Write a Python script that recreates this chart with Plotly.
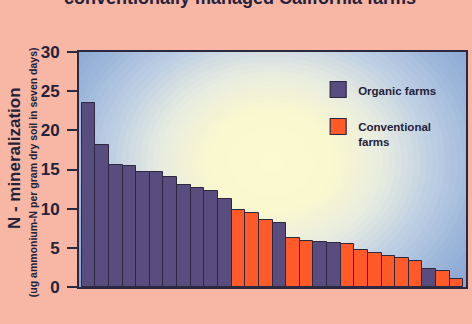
import plotly.graph_objects as go

# Farms ranked by N-mineralization (ug ammonium-N per g dry soil in 7 days)
farm_rank = list(range(28))
farm_type = (["Organic"] * 11
             + ["Conventional"] * 3 + ["Organic"]
             + ["Conventional"] * 2 + ["Organic"] * 2
             + ["Conventional"] * 6 + ["Organic"]
             + ["Conventional"] * 2)
n_mineral = [23.5, 18.1, 15.6, 15.4, 14.7, 14.7, 14.0, 13.0, 12.7, 12.3, 11.2,
             9.8, 9.5, 8.6, 8.2, 6.2, 5.9, 5.8, 5.6, 5.5, 4.7, 4.3, 4.0, 3.7,
             3.3, 2.3, 2.0, 1.0]
y_ticks = [0, 5, 10, 15, 20, 25, 30]

ORGANIC = "#594d7f"
CONVENTIONAL = "#ff5a27"
EDGE = "#2b2840"
INK = "#22223b"

fig = go.Figure()

for name, label, color in [("Organic", "Organic farms", ORGANIC),
                           ("Conventional", "Conventional<br>farms", CONVENTIONAL)]:
    xs = [r for r, t in zip(farm_rank, farm_type) if t == name]
    ys = [v for v, t in zip(n_mineral, farm_type) if t == name]
    fig.add_trace(go.Bar(x=xs, y=ys, width=1, marker_color=color,
                         marker_line=dict(color=EDGE, width=1),
                         showlegend=False))
    # legend swatch
    fig.add_trace(go.Scatter(x=[None], y=[None], mode="markers", name=label,
                             legendgroup=name,
                             marker=dict(symbol="square", size=16, color=color,
                                         line=dict(color=EDGE, width=1.2))))

# soft radial glow behind the bars
x_lo, x_hi = -0.7, 27.7
px_per_x = 389 / (x_hi - x_lo)
px_per_y = 235 / 30
cx, cy = 13.4, 16.0
stops = [(0.0, (252, 250, 208)), (0.26, (250, 248, 206)), (0.46, (232, 236, 224)),
         (0.66, (190, 207, 228)), (0.85, (156, 182, 218)), (1.0, (138, 166, 211))]


def glow(t):
    for (t0, c0), (t1, c1) in zip(stops, stops[1:]):
        if t <= t1:
            f = (t - t0) / (t1 - t0)
            return "rgb(%d,%d,%d)" % tuple(round(a + (b - a) * f) for a, b in zip(c0, c1))
    return "rgb(%d,%d,%d)" % stops[-1][1]


steps = 40
r_max = 250
for i in range(steps, 0, -1):
    t = i / steps
    r = r_max * t
    rx = r / px_per_x
    ry = r * 0.8 / px_per_y
    fig.add_shape(type="circle", xref="x", yref="y", layer="below",
                  x0=cx - rx, x1=cx + rx, y0=cy - ry, y1=cy + ry,
                  fillcolor=glow(t), line_width=0)

fig.update_layout(
    width=472, height=324,
    margin=dict(l=79, r=4, t=52, b=37),
    paper_bgcolor="#f8b6a5",
    plot_bgcolor="rgb(138,166,211)",
    barmode="overlay", bargap=0,
    font=dict(family="Liberation Sans, Arial, sans-serif", color=INK),
    legend=dict(x=0.618, y=0.9, xanchor="left", yanchor="top",
                bgcolor="rgba(0,0,0,0)", valign="top", tracegroupgap=18,
                font=dict(size=11.5, color=INK, weight="bold")),
    xaxis=dict(range=[x_lo, x_hi], showticklabels=False, ticks="",
               showgrid=False, zeroline=False, showline=True, mirror=True,
               linecolor=EDGE, linewidth=2),
    yaxis=dict(range=[0, 30], tickvals=y_ticks, ticks="outside", ticklen=10,
               tickwidth=1.5, tickcolor=EDGE, showgrid=False, zeroline=False,
               showline=True, mirror=True, linecolor=EDGE, linewidth=2,
               ticklabelstandoff=4,
               tickfont=dict(size=17, color=INK, weight="bold")),
    annotations=[
        dict(text="N - mineralization", xref="paper", yref="paper",
             x=-0.167, y=0.55, xanchor="center", yanchor="middle",
             textangle=-90, showarrow=False,
             font=dict(size=17, color=INK, weight="bold")),
        dict(text="(ug ammonium-N per gram dry soil in seven days)",
             xref="paper", yref="paper", x=-0.118, y=0.49, xanchor="center",
             yanchor="middle", textangle=-90,
             showarrow=False, font=dict(size=10.5, color=INK, weight="bold")),
        dict(text="conventionally managed California farms", xref="paper",
             yref="paper", x=0.415, y=1.178, yanchor="bottom", showarrow=False,
             font=dict(size=18, color=INK, weight="bold")),
    ],
)

fig.write_html("out.html")
